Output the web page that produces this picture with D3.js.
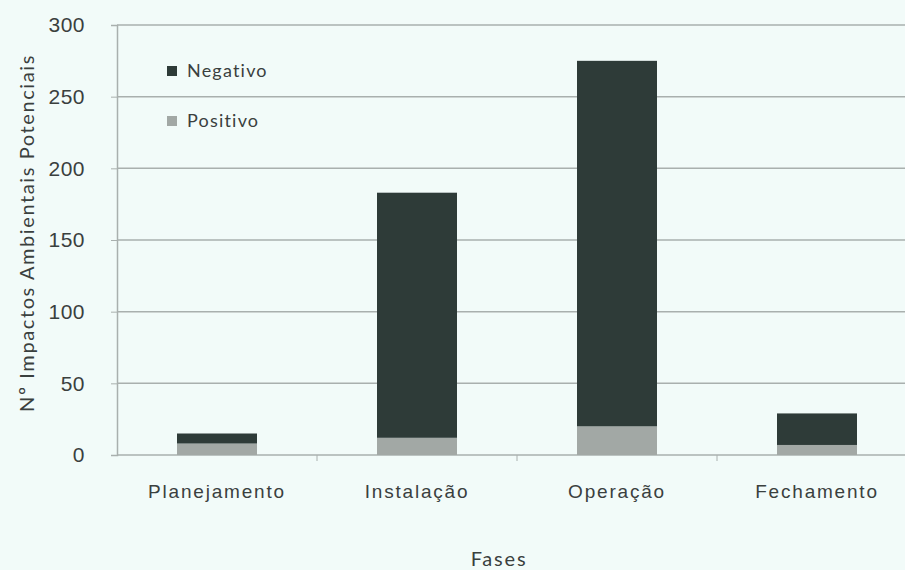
<!DOCTYPE html>
<html>
<head>
<meta charset="utf-8">
<script src="https://cdn.jsdelivr.net/npm/d3@7"></script>
<style>
  body { margin: 0; background: #f2fbf9; }
  svg { display: block; font-family: Lato, "Open Sans", sans-serif; }
</style>
</head>
<body>
<div id="wrapper"></div>
<script>
const fases = ["Planejamento", "Instalação", "Operação", "Fechamento"];
const positivo = [8, 12, 20, 7];
const negativo = [7, 171, 255, 22];
const yTicks = [0, 50, 100, 150, 200, 250, 300];
const series = ["Positivo", "Negativo"];

const dataset = fases.map((f, i) => ({
  fase: f,
  Positivo: positivo[i],
  Negativo: negativo[i],
}));

const colors = { Negativo: "#2e3b38", Positivo: "#a2a8a5" };
const textColor = "#3a403e";

let dimensions = {
  width: 905,
  height: 570,
  margin: { top: 25, right: -12, bottom: 115, left: 117 },
};
dimensions.boundedWidth =
  dimensions.width - dimensions.margin.left - dimensions.margin.right;
dimensions.boundedHeight =
  dimensions.height - dimensions.margin.top - dimensions.margin.bottom;

const wrapper = d3
  .select("#wrapper")
  .append("svg")
  .attr("width", dimensions.width)
  .attr("height", dimensions.height);

wrapper
  .append("rect")
  .attr("width", dimensions.width)
  .attr("height", dimensions.height)
  .attr("fill", "#f2fbf9");

const bounds = wrapper
  .append("g")
  .attr("transform", `translate(${dimensions.margin.left},${dimensions.margin.top})`);

const xScale = d3
  .scaleBand()
  .domain(fases)
  .range([0, dimensions.boundedWidth])
  .paddingInner(0.6)
  .paddingOuter(0.3);

const yScale = d3
  .scaleLinear()
  .domain([0, 300])
  .range([dimensions.boundedHeight, 0]);

// gridlines
bounds
  .append("g")
  .selectAll("line")
  .data(yTicks)
  .join("line")
  .attr("x1", 0)
  .attr("x2", dimensions.boundedWidth)
  .attr("y1", (d) => yScale(d))
  .attr("y2", (d) => yScale(d))
  .attr("stroke", "#a9b0ae")
  .attr("stroke-width", 1.5);

// y axis
const yAxis = bounds
  .append("g")
  .call(d3.axisLeft(yScale).tickValues(yTicks).tickSize(6).tickPadding(26));
yAxis.select(".domain").attr("stroke", "#a9b0ae").attr("stroke-width", 1.5);
yAxis.selectAll(".tick line").attr("stroke", "#a9b0ae");
yAxis
  .selectAll(".tick text")
  .attr("fill", textColor)
  .style("font-size", "21px")
  .style("letter-spacing", "0.5px");

// x axis
const xAxis = bounds
  .append("g")
  .attr("transform", `translate(0,${dimensions.boundedHeight})`)
  .call(d3.axisBottom(xScale).tickSize(0).tickPadding(30));
xAxis.select(".domain").remove();
xAxis
  .selectAll(".tick text")
  .attr("fill", textColor)
  .style("font-size", "19px")
  .style("letter-spacing", "1.8px");

// category separators ticks
const step = xScale.step();
bounds
  .append("g")
  .selectAll("line")
  .data(fases.slice(1))
  .join("line")
  .attr("x1", (d) => xScale(d) - (step * xScale.paddingInner()) / 2)
  .attr("x2", (d) => xScale(d) - (step * xScale.paddingInner()) / 2)
  .attr("y1", dimensions.boundedHeight)
  .attr("y2", dimensions.boundedHeight + 6)
  .attr("stroke", "#a9b0ae");

// stacked bars
const stack = d3.stack().keys(series)(dataset);
bounds
  .append("g")
  .selectAll("g")
  .data(stack)
  .join("g")
  .attr("fill", (d) => colors[d.key])
  .selectAll("rect")
  .data((d) => d)
  .join("rect")
  .attr("x", (d) => xScale(d.data.fase))
  .attr("width", xScale.bandwidth())
  .attr("y", (d) => yScale(d[1]))
  .attr("height", (d) => yScale(d[0]) - yScale(d[1]));

// legend
const legend = wrapper.append("g").attr("transform", "translate(167,71)");
const legendItems = legend
  .selectAll("g")
  .data(["Negativo", "Positivo"])
  .join("g")
  .attr("transform", (d, i) => `translate(0,${i * 50})`);
legendItems
  .append("rect")
  .attr("x", 0)
  .attr("y", -5)
  .attr("width", 10)
  .attr("height", 10)
  .attr("fill", (d) => colors[d]);
legendItems
  .append("text")
  .attr("x", 20)
  .attr("dy", "0.35em")
  .attr("fill", textColor)
  .style("font-size", "18px")
  .style("letter-spacing", "1.2px")
  .text((d) => d);

// axis titles
wrapper
  .append("text")
  .attr("transform", "translate(34,233) rotate(-90)")
  .attr("text-anchor", "middle")
  .attr("fill", textColor)
  .style("font-size", "20px")
  .style("letter-spacing", "1.6px")
  .text("Nº Impactos Ambientais Potenciais");

wrapper
  .append("text")
  .attr("x", 499)
  .attr("y", 566)
  .attr("text-anchor", "middle")
  .attr("fill", textColor)
  .style("font-size", "20px")
  .style("letter-spacing", "1.8px")
  .text("Fases");
</script>
</body>
</html>
